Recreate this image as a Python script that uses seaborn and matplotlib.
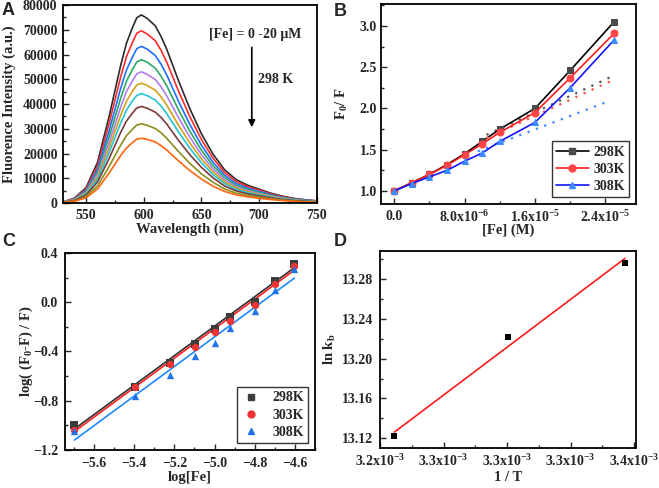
import matplotlib
matplotlib.use("Agg")
import matplotlib.pyplot as plt
import seaborn as sns
from matplotlib.lines import Line2D
from matplotlib.ticker import MultipleLocator, FixedLocator, FixedFormatter

# ---- panel A: emission spectra at 298 K, [Fe] = 0-20 uM ----
wavelength = [530, 540, 550, 560, 570, 580, 585, 590, 594, 598, 603, 610, 615, 620, 630,
              640, 650, 660, 670, 680, 690, 700, 710, 720, 730, 740, 750]
spectra = [
    [400, 2000, 6200, 16500, 35000, 55600, 64500, 70600, 74900, 76000, 74600, 71600, 67300, 62100, 49600,
     38100, 28000, 19800, 13500, 9500, 7200, 5600, 4000, 2800, 1900, 1300, 900],
    [400, 1800, 5700, 15100, 32100, 50900, 59100, 64700, 68600, 69600, 68300, 65600, 61700, 56900, 45400,
     34900, 25700, 18200, 12400, 8700, 6600, 5200, 3700, 2600, 1700, 1200, 800],
    [300, 1600, 5200, 13700, 29200, 46300, 53700, 58800, 62400, 63300, 62200, 59600, 56100, 51700, 41300,
     31700, 23400, 16500, 11300, 7900, 6000, 4700, 3400, 2300, 1600, 1100, 800],
    [300, 1500, 4700, 12600, 26700, 42300, 49200, 53800, 57000, 57900, 56900, 54500, 51300, 47300, 37800,
     29000, 21400, 15100, 10300, 7200, 5500, 4300, 3100, 2100, 1500, 1000, 700],
    [300, 1400, 4300, 11500, 24400, 38700, 45000, 49200, 52200, 53000, 52000, 49900, 47000, 43300, 34600,
     26600, 19600, 13800, 9400, 6600, 5000, 3900, 2800, 2000, 1300, 900, 700],
    [300, 1300, 4000, 10500, 22300, 35400, 41100, 45000, 47700, 48400, 47500, 45600, 42900, 39500, 31600,
     24200, 17900, 12600, 8600, 6100, 4600, 3600, 2600, 1800, 1200, 800, 600],
    [200, 1100, 3600, 9600, 20400, 32300, 37500, 41100, 43500, 44200, 43400, 41600, 39200, 36100, 28800,
     22100, 16300, 11500, 7900, 5500, 4200, 3300, 2300, 1600, 1100, 800, 500],
    [200, 1000, 3200, 8500, 18000, 28500, 33100, 36200, 38400, 39000, 38300, 36700, 34600, 31900, 25400,
     19500, 14400, 10200, 6900, 4900, 3700, 2900, 2100, 1400, 1000, 700, 500],
    [200, 800, 2600, 6900, 14800, 23400, 27200, 29700, 31500, 32000, 31400, 30100, 28400, 26100, 20900,
     16000, 11800, 8400, 5700, 4000, 3000, 2400, 1700, 1200, 800, 500, 400],
    [100, 700, 2100, 5700, 12100, 19200, 22200, 24300, 25800, 26200, 25700, 24700, 23200, 21400, 17100,
     13100, 9700, 6800, 4700, 3300, 2500, 1900, 1400, 1000, 700, 400, 300],
]
spectra_colors = ["#2b2b2b", "#ff2a2a", "#1f6fff", "#2aa864", "#b27cf2",
                  "#d4a017", "#22c4d6", "#7a3b3b", "#8c8c1c", "#ff6410"]

# ---- panel B: Stern-Volmer F0/F vs [Fe] ----
fe_conc = [0, 2e-6, 4e-6, 6e-6, 8e-6, 1.0e-5, 1.2e-5, 1.6e-5, 2.0e-5, 2.5e-5]
f0f_298 = [1.00, 1.10, 1.20, 1.32, 1.45, 1.60, 1.75, 2.00, 2.46, 3.05]
f0f_303 = [1.00, 1.10, 1.20, 1.31, 1.44, 1.57, 1.71, 1.95, 2.37, 2.91]
f0f_308 = [1.00, 1.09, 1.17, 1.25, 1.36, 1.46, 1.60, 1.83, 2.25, 2.83]
# linear (dotted) parts, read as end points
sv_x_298, sv_y_298 = [1.05e-5, 2.5e-5], [1.68, 2.40]
sv_x_303, sv_y_303 = [1.05e-5, 2.5e-5], [1.64, 2.35]
sv_x_308, sv_y_308 = [0.95e-5, 2.42e-5], [1.48, 2.08]
b_tick_vals = [0, 8e-6, 1.6e-5, 2.4e-5]
b_tick_labels = ["0.0", "8.0x10$^{-6}$", "1.6x10$^{-5}$", "2.4x10$^{-5}$"]

# ---- panel C: double log plot ----
log_fe = [-5.699, -5.398, -5.222, -5.097, -5.000, -4.921, -4.796, -4.699, -4.602]
lg_298 = [-1.00, -0.69, -0.49, -0.34, -0.22, -0.12, 0.00, 0.17, 0.31]
lg_303 = [-1.04, -0.69, -0.50, -0.36, -0.24, -0.15, -0.02, 0.15, 0.29]
lg_308 = [-1.05, -0.76, -0.59, -0.44, -0.33, -0.21, -0.07, 0.10, 0.27]
fit_x_c = [-5.699, -4.602]
fit_298 = [-1.03, 0.28]
fit_303 = [-1.05, 0.26]
fit_308 = [-1.12, 0.195]

# ---- panel D: van't Hoff ----
inv_t = [3.2468e-3, 3.3003e-3, 3.3557e-3]
ln_kb = [13.122, 13.222, 13.296]
fit_x_d = [3.2468e-3, 3.3557e-3]
fit_y_d = [13.126, 13.301]
d_tick_vals = [3.24e-3, 3.27e-3, 3.30e-3, 3.33e-3, 3.36e-3]
d_tick_labels = ["3.2x10$^{-3}$", "3.3x10$^{-3}$", "3.3x10$^{-3}$", "3.3x10$^{-3}$", "3.4x10$^{-3}$"]

temps = ["298K", "303K", "308K"]

sns.set_style("ticks")
plt.rcParams["font.family"] = ["Liberation Serif", "DejaVu Serif"]
plt.rcParams["font.weight"] = "bold"
plt.rcParams["axes.labelweight"] = "bold"
plt.rcParams["mathtext.fontset"] = "custom"
plt.rcParams["mathtext.rm"] = "Liberation Serif:bold"
plt.rcParams["mathtext.it"] = "Liberation Serif:bold"
plt.rcParams["mathtext.bf"] = "Liberation Serif:bold"
plt.rcParams["axes.linewidth"] = 1.3
plt.rcParams["xtick.labelsize"] = 10
plt.rcParams["ytick.labelsize"] = 10
plt.rcParams["axes.labelsize"] = 10.5

fig = plt.figure(figsize=(6.59, 4.88), dpi=100)
axA = fig.add_axes([0.0956, 0.584, 0.385, 0.4057])
axB = fig.add_axes([0.578, 0.582, 0.387, 0.410])
axC = fig.add_axes([0.0986, 0.078, 0.379, 0.4037])
axD = fig.add_axes([0.5766, 0.082, 0.3885, 0.4037])

for ax in (axA, axB, axC, axD):
    for sp in ax.spines.values():
        sp.set_visible(True)
        sp.set_color("black")
    ax.tick_params(which="both", direction="in", width=1.0)
    ax.tick_params(which="major", length=4)
    ax.tick_params(which="minor", length=2)

# A
for vals, c in zip(spectra, spectra_colors):
    sns.lineplot(x=wavelength, y=vals, color=c, lw=1.2, ax=axA)
axA.set_xlim(530, 750)
axA.set_ylim(0, 80000)
axA.xaxis.set_major_locator(MultipleLocator(50))
axA.xaxis.set_minor_locator(MultipleLocator(25))
axA.yaxis.set_major_locator(MultipleLocator(10000))
axA.yaxis.set_minor_locator(MultipleLocator(5000))
axA.tick_params(axis="x", which="major", pad=4)
axA.tick_params(axis="y", which="major", pad=4)
axA.set_xlabel("Wavelength (nm)")
axA.set_ylabel("Fluorence Intensity (a.u.)")
axA.xaxis.set_label_coords(0.5, -0.1)
axA.yaxis.set_label_coords(-0.185, 0.5)
axA.text(697, 68000, "[Fe] = 0 -20 μM", ha="center", va="center", fontsize=10, fontweight="bold")
axA.text(714, 50000, "298 K", ha="center", va="center", fontsize=10, fontweight="bold")
axA.annotate("", xy=(693.7, 29500), xytext=(693.7, 64000),
             arrowprops=dict(arrowstyle="-|>", color="black", lw=1.2, mutation_scale=10))

# B
b_series = [
    (f0f_298, sv_x_298, sv_y_298, "black", "#4a4a4a", "s", "#555555"),
    (f0f_303, sv_x_303, sv_y_303, "#ff1a1a", "#ff4545", "o", "#ff5050"),
    (f0f_308, sv_x_308, sv_y_308, "#1414ff", "#3a8cff", "^", "#3a8cff"),
]
handles_b = []
for (yv, sx, sy, lc, mc, mk, dc), lab in zip(b_series, temps):
    sns.lineplot(x=sx, y=sy, color=dc, lw=1.6, linestyle=(0, (1, 3)), ax=axB)
    sns.lineplot(x=fe_conc, y=yv, color=lc, lw=1.2, marker=mk, markersize=5,
                 markerfacecolor=mc, markeredgecolor=mc, ax=axB)
    handles_b.append(Line2D([], [], color=lc, lw=1.2, marker=mk, markersize=5,
                            markerfacecolor=mc, markeredgecolor=mc, label=lab))
axB.set_xlim(-1.51e-6, 2.748e-5)
axB.set_ylim(0.842, 3.267)
axB.xaxis.set_major_locator(FixedLocator(b_tick_vals))
axB.xaxis.set_major_formatter(FixedFormatter(b_tick_labels))
axB.xaxis.set_minor_locator(MultipleLocator(4e-6))
axB.yaxis.set_major_locator(MultipleLocator(0.5))
axB.yaxis.set_minor_locator(MultipleLocator(0.25))
axB.tick_params(axis="x", which="major", pad=4)
axB.tick_params(axis="y", which="major", pad=3)
axB.set_xlabel("[Fe] (M)")
axB.set_ylabel("F$_0$/ F")
axB.xaxis.set_label_coords(0.5, -0.1)
axB.yaxis.set_label_coords(-0.12, 0.5)
legB = axB.legend(handles=handles_b, loc="lower right", fontsize=10, frameon=True,
                  fancybox=False, edgecolor="black", handlelength=2.4,
                  borderaxespad=0.5, labelspacing=0.3, handletextpad=0.3,
                  borderpad=0.3)
legB.get_frame().set_linewidth(1.0)

# C
c_series = [
    (lg_298, fit_298, "#3c3c3c", "#2e2e2e", "s"),
    (lg_303, fit_303, "#f03434", "#ff1e1e", "o"),
    (lg_308, fit_308, "#1f72ea", "#1e88ff", "^"),
]
handles_c = []
for (yv, fy, mc, lc, mk), lab in zip(c_series, temps):
    sns.lineplot(x=fit_x_c, y=fy, color=lc, lw=1.2, ax=axC)
    sns.scatterplot(x=log_fe, y=yv, color=mc, marker=mk, s=28, edgecolor=mc,
                    linewidth=0, ax=axC, zorder=3)
    handles_c.append(Line2D([], [], color=mc, lw=0, marker=mk, markersize=5, label=lab))
axC.set_xlim(-5.746, -4.50)
axC.set_ylim(-1.2, 0.4)
axC.xaxis.set_major_locator(MultipleLocator(0.2))
axC.xaxis.set_minor_locator(MultipleLocator(0.1))
axC.yaxis.set_major_locator(MultipleLocator(0.4))
axC.yaxis.set_minor_locator(MultipleLocator(0.2))
axC.tick_params(axis="x", which="major", pad=5)
axC.tick_params(axis="y", which="major", pad=5)
axC.set_xlabel("log[Fe]")
axC.set_ylabel("log( (F$_0$-F) / F)")
axC.xaxis.set_label_coords(0.5, -0.105)
axC.yaxis.set_label_coords(-0.12, 0.5)
legC = axC.legend(handles=handles_c, loc="lower right", fontsize=10, frameon=True,
                  fancybox=False, edgecolor="black", handlelength=1.4,
                  borderaxespad=0.5, labelspacing=0.3, handletextpad=0.8,
                  borderpad=0.3)
legC.get_frame().set_linewidth(1.0)

# D
sns.lineplot(x=fit_x_d, y=fit_y_d, color="#ff1a1a", lw=1.2, ax=axD)
sns.scatterplot(x=inv_t, y=ln_kb, color="black", marker="s", s=22, linewidth=0, ax=axD, zorder=3)
axD.set_xlim(3.2400e-3, 3.3609e-3)
axD.set_ylim(13.110, 13.3085)
axD.xaxis.set_major_locator(FixedLocator(d_tick_vals))
axD.xaxis.set_major_formatter(FixedFormatter(d_tick_labels))
axD.xaxis.set_minor_locator(MultipleLocator(1.5e-5))
axD.yaxis.set_major_locator(MultipleLocator(0.04))
axD.yaxis.set_minor_locator(MultipleLocator(0.02))
axD.tick_params(axis="x", which="major", pad=4)
axD.tick_params(axis="y", which="major", pad=5)
axD.set_xlabel("1 / T")
axD.set_ylabel("ln k$_b$")
axD.xaxis.set_label_coords(0.5, -0.115)
axD.yaxis.set_label_coords(-0.165, 0.5)

for letter, (fx, fy) in zip("ABCD", [(0.003, 0.996), (0.507, 0.994), (0.003, 0.523), (0.507, 0.523)]):
    fig.text(fx, fy, letter, ha="left", va="top", fontsize=13, fontweight="bold",
             family=["Liberation Sans", "DejaVu Sans"])

fig.savefig("out.png", dpi=100)
